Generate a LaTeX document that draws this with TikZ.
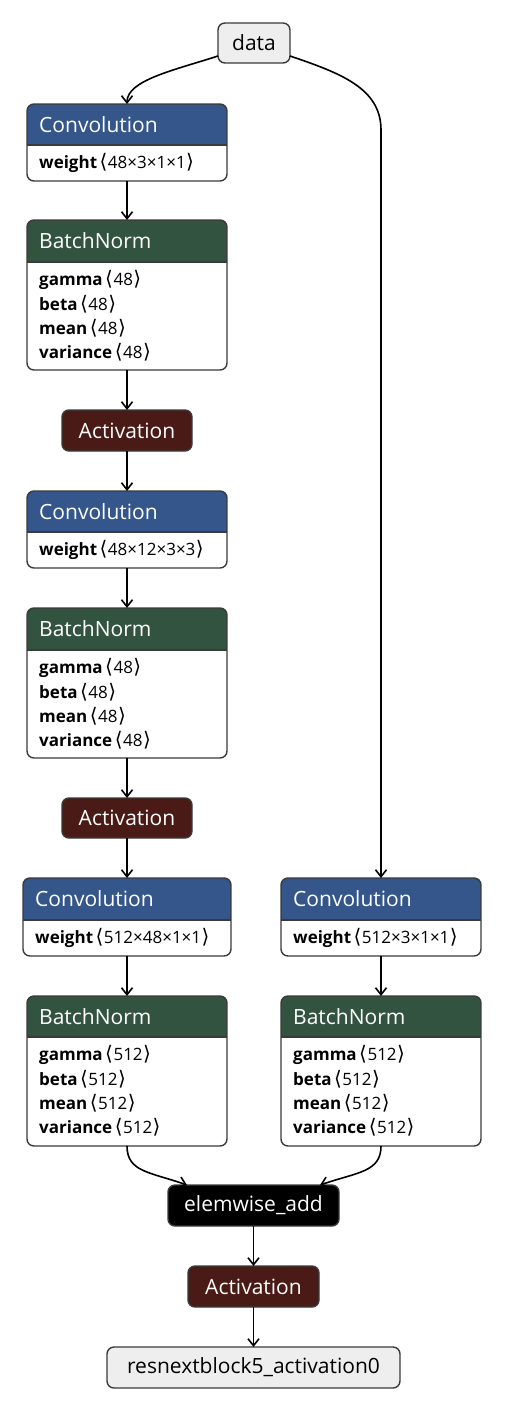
\documentclass[tikz,border=0pt]{standalone}
\usepackage{fontspec}
\setmainfont{Open Sans}
\newfontfamily\symf{DejaVu Sans}
\usetikzlibrary{arrows.meta}
\definecolor{convcol}{RGB}{52,86,138}
\definecolor{bncol}{RGB}{51,83,65}
\definecolor{actcol}{RGB}{74,27,22}
\definecolor{iocol}{RGB}{238,238,238}
\definecolor{framecol}{RGB}{58,58,58}
\newcommand\lb{\kern2.5pt{\symf\fontsize{20}{24}\selectfont ⟨}\kern0.5pt}
\newcommand\rb{\kern0.5pt{\symf\fontsize{20}{24}\selectfont ⟩}}
\newcommand\opbox[8]{%
  \node[opframe, minimum width={(#3-#2)*1pt}, minimum height={(#6-#4)*1pt}] (#1) at ({(#2+#3)/2},{(#4+#6)/2}) {};
  \begin{scope}
    \clip[rounded corners=7pt] (#1.north west) rectangle (#1.south east);
    \fill[#7] (#2,#4) rectangle (#3,#5);
    \fill[white] (#2,#5) rectangle (#3,#6);
  \end{scope}
  \draw[framecol, line width=1.4pt] (#2,#5) -- (#3,#5);
  \draw[framecol, line width=1.4pt, rounded corners=7pt] (#1.north west) rectangle (#1.south east);
  \node[titletext] (#1-t) at ({#2+12},{(#4+#5)/2}) {#8};
}
\newcommand\pline[4]{%
  \node[paramtext] (#1) at ({#2+12},#3) {#4};
}
\tikzset{
  opframe/.style={inner sep=0pt, outer sep=0pt},
  titletext/.style={anchor=west, inner sep=0pt, text=white, font=\fontsize{21}{25}\selectfont},
  paramtext/.style={anchor=west, inner sep=0pt, font=\fontsize{17}{21}\selectfont},
  simplebox/.style={draw=framecol, line width=1.4pt, rounded corners=7pt, inner sep=0pt, outer sep=0pt, font=\fontsize{21}{25}\selectfont},
  edge/.style={line width=1.6pt, -{Straight Barb[length=7pt,width=11pt,line width=1.6pt]}}
}
\begin{document}
\begin{tikzpicture}[x=1pt,y=-1pt]
\useasboundingbox (0,0) rectangle (504,1412);
% io and simple nodes
\node[simplebox, fill=iocol, minimum width=72pt, minimum height=40pt] (data) at (254,43) {data};
\node[simplebox, fill=actcol, text=white, minimum width=130pt, minimum height=41pt] (act1) at (127,430.5) {Activation};
\node[simplebox, fill=actcol, text=white, minimum width=130pt, minimum height=40pt] (act2) at (127,818) {Activation};
\node[simplebox, fill=black, text=white, minimum width=171pt, minimum height=41pt] (add) at (253.5,1205.5) {elemwise\_add};
\node[simplebox, fill=actcol, text=white, minimum width=131pt, minimum height=41pt] (act3) at (253.5,1286.5) {Activation};
\node[simplebox, fill=iocol, minimum width=293pt, minimum height=41pt] (out) at (253.5,1367.5) {resnextblock5\_activation0};
% op boxes
\opbox{conv1}{27}{227}{104}{145}{181}{convcol}{Convolution}
\pline{conv1-w}{27}{163}{\textbf{weight}\lb 48×3×1×1\rb}
\opbox{bn1}{27}{227}{220}{262}{370}{bncol}{BatchNorm}
\pline{bn1-g}{27}{280}{\textbf{gamma}\lb 48\rb}
\pline{bn1-b}{27}{304}{\textbf{beta}\lb 48\rb}
\pline{bn1-m}{27}{328}{\textbf{mean}\lb 48\rb}
\pline{bn1-v}{27}{352}{\textbf{variance}\lb 48\rb}
\opbox{conv2}{27}{227}{491}{532}{568}{convcol}{Convolution}
\pline{conv2-w}{27}{550}{\textbf{weight}\lb 48×12×3×3\rb}
\opbox{bn2}{27}{227}{608}{650}{758}{bncol}{BatchNorm}
\pline{bn2-g}{27}{668}{\textbf{gamma}\lb 48\rb}
\pline{bn2-b}{27}{692}{\textbf{beta}\lb 48\rb}
\pline{bn2-m}{27}{716}{\textbf{mean}\lb 48\rb}
\pline{bn2-v}{27}{740}{\textbf{variance}\lb 48\rb}
\opbox{conv3}{23}{231}{878}{920}{956}{convcol}{Convolution}
\pline{conv3-w}{23}{938}{\textbf{weight}\lb 512×48×1×1\rb}
\opbox{conv4}{281}{481}{878}{920}{956}{convcol}{Convolution}
\pline{conv4-w}{281}{938}{\textbf{weight}\lb 512×3×1×1\rb}
\opbox{bn3}{27}{227}{996}{1037}{1146}{bncol}{BatchNorm}
\pline{bn3-g}{27}{1055}{\textbf{gamma}\lb 512\rb}
\pline{bn3-b}{27}{1079}{\textbf{beta}\lb 512\rb}
\pline{bn3-m}{27}{1103}{\textbf{mean}\lb 512\rb}
\pline{bn3-v}{27}{1127}{\textbf{variance}\lb 512\rb}
\opbox{bn4}{281}{481}{996}{1037}{1146}{bncol}{BatchNorm}
\pline{bn4-g}{281}{1055}{\textbf{gamma}\lb 512\rb}
\pline{bn4-b}{281}{1079}{\textbf{beta}\lb 512\rb}
\pline{bn4-m}{281}{1103}{\textbf{mean}\lb 512\rb}
\pline{bn4-v}{281}{1127}{\textbf{variance}\lb 512\rb}
% edges
\draw[edge] ([yshift=7pt]data.south west) .. controls (175,70) and (127,80) .. (conv1.north);
\draw[edge] ([yshift=7pt]data.south east) .. controls (340,73) and (381,88) .. (381,130) -- (conv4.north);
\draw[edge] (conv1.south) -- (bn1.north);
\draw[edge] (bn1.south) -- (act1.north);
\draw[edge] (act1.south) -- (conv2.north);
\draw[edge] (conv2.south) -- (bn2.north);
\draw[edge] (bn2.south) -- (act2.north);
\draw[edge] (act2.south) -- (conv3.north);
\draw[edge] (conv3.south) -- (bn3.north);
\draw[edge] (conv4.south) -- (bn4.north);
\draw[edge] (bn3.south) .. controls (127,1172) and (150,1172) .. ([xshift=19pt]add.north west);
\draw[edge] (bn4.south) .. controls (381,1172) and (358,1172) .. ([xshift=-19pt]add.north east);
\draw[edge] (add.south) -- (act3.north);
\draw[edge] (act3.south) -- (out.north);
\end{tikzpicture}
\end{document}
